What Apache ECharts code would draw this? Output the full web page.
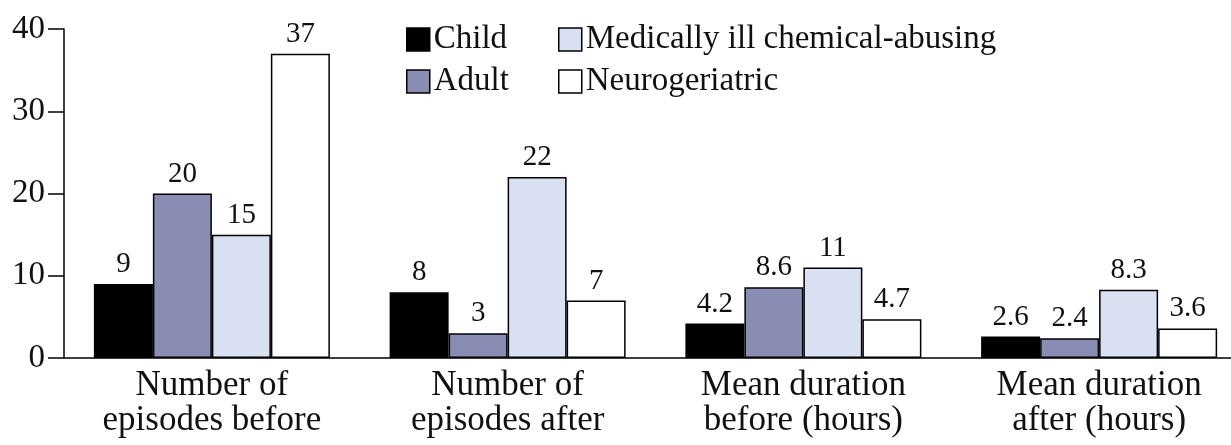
<!DOCTYPE html>
<html>
<head>
<meta charset="utf-8">
<script src="https://cdn.jsdelivr.net/npm/echarts@6/dist/echarts.min.js"></script>
<style>
  html, body { margin: 0; padding: 0; background: #fff; }
  #chart { width: 1231px; height: 445px; }
</style>
</head>
<body>
<div id="chart"></div>
<script>
var categories = ['Number of\nepisodes before', 'Number of\nepisodes after', 'Mean duration\nbefore (hours)', 'Mean duration\nafter (hours)']
var child = [9, 8, 4.2, 2.6]
var adult = [20, 3, 8.6, 2.4]
var medical = [15, 22, 11, 8.3]
var neuro = [37, 7, 4.7, 3.6]
var yTicks = [0, 10, 20, 30, 40]

var font = 'Liberation Serif'

function bar (name, data, color) {
  return {
    name: name,
    type: 'bar',
    data: data,
    barWidth: 59,
    barGap: '0%',
    itemStyle: { color: color, borderColor: '#000', borderWidth: 1.5 },
    label: {
      show: true,
      position: 'top',
      distance: 5,
      color: '#111',
      fontFamily: font,
      fontSize: 29
    }
  }
}

var legendBase = {
  orient: 'vertical',
  top: 18,
  icon: 'rect',
  itemWidth: 23,
  itemHeight: 23,
  itemGap: 9,
  textStyle: { fontFamily: font, fontSize: 33, color: '#111', padding: [0, 0, 0, -1] },
  itemStyle: { borderColor: '#000', borderWidth: 1.5 }
}

var chart = echarts.init(document.getElementById('chart'))
chart.setOption({
  animation: false,
  backgroundColor: '#fff',
  grid: { left: 64, width: 1183, top: 29, bottom: 87, outerBoundsMode: 'none' },
  legend: [
    Object.assign({}, legendBase, { left: 401, data: ['Child', 'Adult'] }),
    Object.assign({}, legendBase, { left: 553, data: ['Medically ill chemical-abusing', 'Neurogeriatric'] })
  ],
  xAxis: {
    type: 'category',
    data: categories,
    axisLine: { lineStyle: { color: '#000', width: 1.5 } },
    axisTick: { show: false },
    axisLabel: { color: '#111', fontFamily: font, fontSize: 35, lineHeight: 35, margin: 10, interval: 0 }
  },
  yAxis: {
    type: 'value',
    min: yTicks[0],
    max: yTicks[yTicks.length - 1],
    interval: 10,
    splitLine: { show: false },
    axisLine: { show: true, lineStyle: { color: '#000', width: 1.5 } },
    axisTick: { show: true, inside: false, length: 16, lineStyle: { color: '#000', width: 1.5 } },
    axisLabel: { color: '#111', fontFamily: font, fontSize: 33, margin: 19 }
  },
  series: [
    bar('Child', child, '#000000'),
    bar('Adult', adult, '#8a8db3'),
    bar('Medically ill chemical-abusing', medical, '#d9e0f1'),
    bar('Neurogeriatric', neuro, '#ffffff')
  ]
})
</script>
</body>
</html>
